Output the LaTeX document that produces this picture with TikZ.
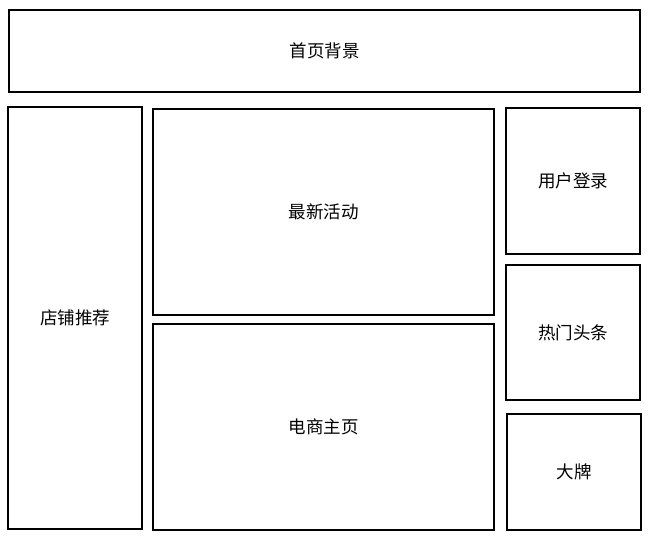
\documentclass[tikz,border=0pt]{standalone}
\usepackage{fontspec}
\setmainfont{Noto Sans CJK SC}
\usepackage{tikz}
\usetikzlibrary{positioning}

\begin{document}
\begin{tikzpicture}[
    x=1pt, y=-1pt,
    every node/.style={font=\fontsize{17.5}{20}\selectfont},
    panel/.style={draw, line width=2pt, inner sep=0pt}
]
\useasboundingbox (0,0) rectangle (658,545);
\node[panel, minimum width=631pt, minimum height=82pt] (banner) at (324.5,51) {首页背景};
\node[panel, minimum width=134pt, minimum height=422pt] (shops) at (75,318) {店铺推荐};
\node[panel, minimum width=341pt, minimum height=206pt] (events) at (323.5,212) {最新活动};
\node[panel, minimum width=341pt, minimum height=206pt] (home) at (323.5,427) {电商主页};
\node[panel, minimum width=134pt, minimum height=146pt] (login) at (573,181) {用户登录};
\node[panel, minimum width=134pt, minimum height=135pt] (news) at (573,332.5) {热门头条};
\node[panel, minimum width=134pt, minimum height=116pt] (brand) at (574,472) {大牌};
\end{tikzpicture}
\end{document}
